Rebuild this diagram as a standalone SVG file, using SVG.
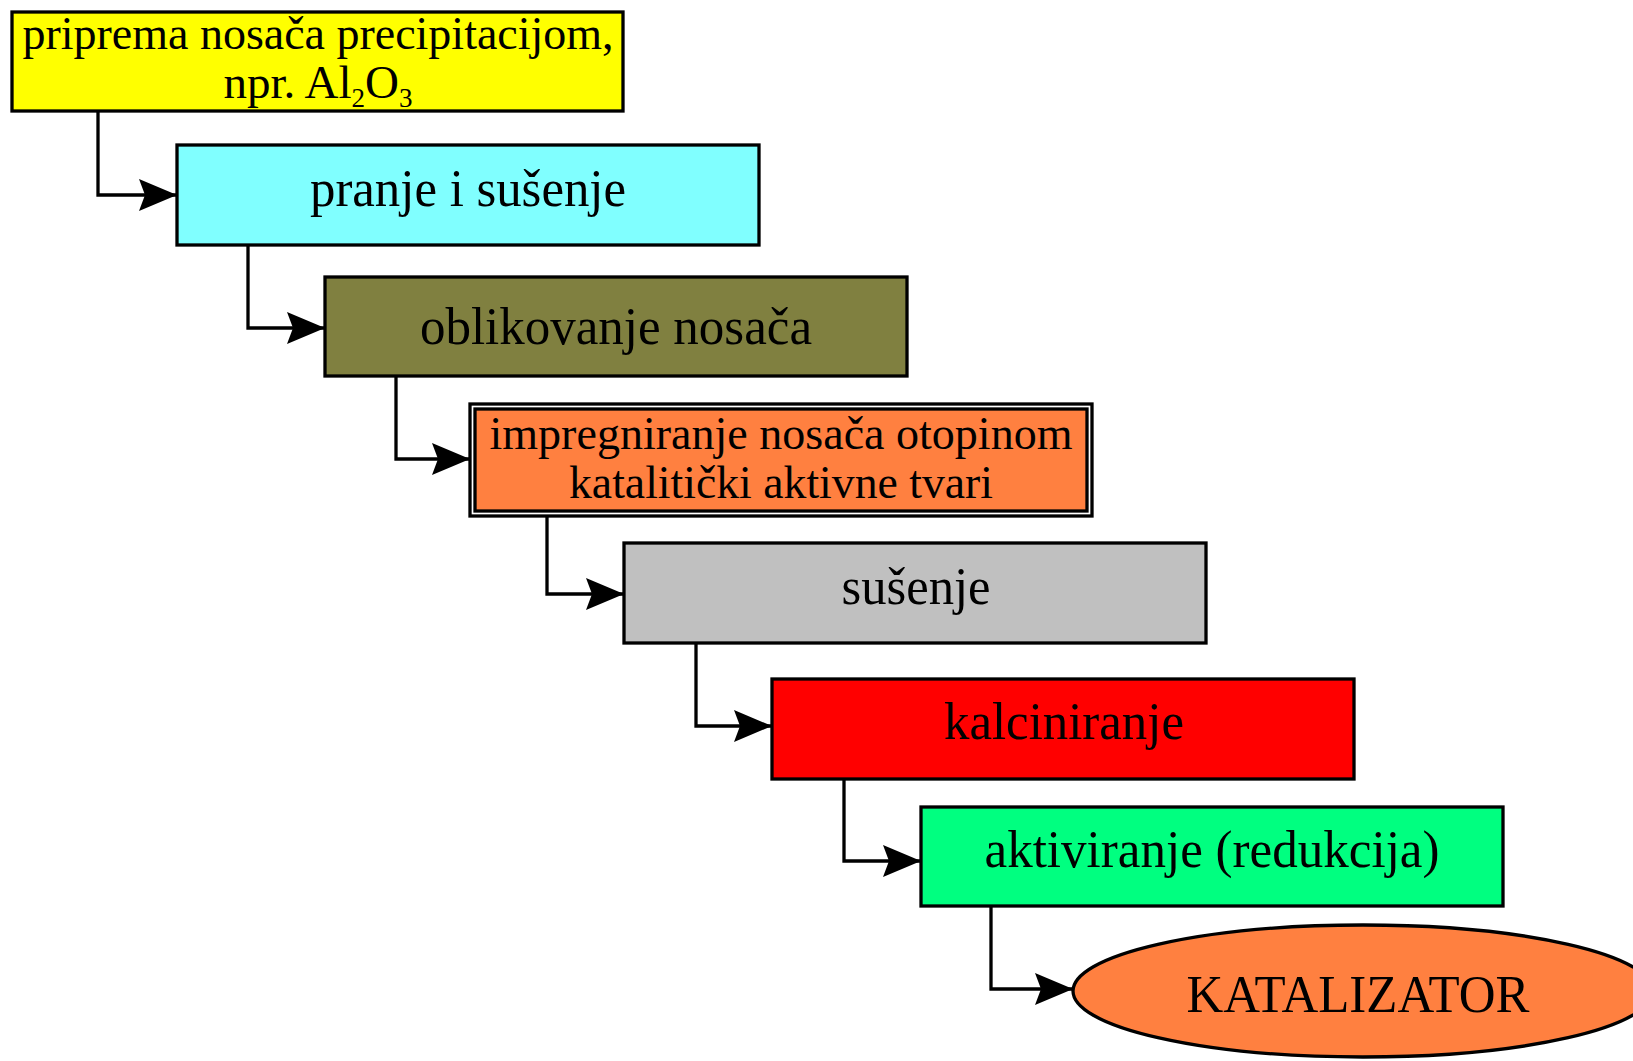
<svg xmlns="http://www.w3.org/2000/svg" width="1633" height="1061" viewBox="0 0 1633 1061">
<defs>
<marker id="arr" markerUnits="userSpaceOnUse" viewBox="0 0 38 32" refX="38" refY="16" markerWidth="38" markerHeight="32" orient="auto">
<path d="M0,0 L38,16 L0,32 L6,16 Z" fill="#000"/>
</marker>
<style>
.box{stroke:#000;stroke-width:3.3}
.t{font-family:"Liberation Serif","Times New Roman",serif;font-size:53px;fill:#000;text-anchor:middle}
.t2{font-family:"Liberation Serif","Times New Roman",serif;font-size:47px;fill:#000;text-anchor:middle}
.c{fill:none;stroke:#000;stroke-width:3.3;marker-end:url(#arr)}
</style>
</defs>
<rect width="1633" height="1061" fill="#fff"/>
<g id="connectors">
<path class="c" d="M98,111 V195 H177"/>
<path class="c" d="M248,245 V328 H325"/>
<path class="c" d="M396,376 V459 H470"/>
<path class="c" d="M547,511 V594 H624"/>
<path class="c" d="M696,643 V726 H772"/>
<path class="c" d="M844,779 V861 H921"/>
<path class="c" d="M991,906 V989 H1073"/>
</g>
<g id="n1">
<rect class="box" x="12" y="12" width="611" height="99" fill="#ffff00"/>
<text class="t2" x="318" y="49" textLength="591" lengthAdjust="spacingAndGlyphs">priprema nosača precipitacijom,</text>
<text class="t2" x="318" y="98">npr. Al<tspan font-size="27" dy="9">2</tspan><tspan dy="-9">O</tspan><tspan font-size="27" dy="9">3</tspan></text>
</g>
<g id="n2">
<rect class="box" x="177" y="145" width="582" height="100" fill="#80ffff"/>
<text class="t" x="468" y="206" textLength="316" lengthAdjust="spacingAndGlyphs">pranje i sušenje</text>
</g>
<g id="n3">
<rect class="box" x="325" y="277" width="582" height="99" fill="#808040"/>
<text class="t" x="616" y="344" textLength="392" lengthAdjust="spacingAndGlyphs">oblikovanje nosača</text>
</g>
<g id="n4">
<rect class="box" x="470" y="404" width="622" height="112" fill="#fff"/>
<rect class="box" x="475" y="409" width="612" height="102" fill="#ff8040"/>
<text class="t2" x="781" y="449" textLength="583" lengthAdjust="spacingAndGlyphs">impregniranje nosača otopinom</text>
<text class="t2" x="781" y="498" textLength="424" lengthAdjust="spacingAndGlyphs">katalitički aktivne tvari</text>
</g>
<g id="n5">
<rect class="box" x="624" y="543" width="582" height="100" fill="#c0c0c0"/>
<text class="t" x="916" y="604" textLength="149" lengthAdjust="spacingAndGlyphs">sušenje</text>
</g>
<g id="n6">
<rect class="box" x="772" y="679" width="582" height="100" fill="#ff0000"/>
<text class="t" x="1064" y="739" textLength="240" lengthAdjust="spacingAndGlyphs">kalciniranje</text>
</g>
<g id="n7">
<rect class="box" x="921" y="807" width="582" height="99" fill="#00ff80"/>
<text class="t" x="1212" y="867" textLength="455" lengthAdjust="spacingAndGlyphs">aktiviranje (redukcija)</text>
</g>
<g id="n8">
<ellipse class="box" cx="1363" cy="991" rx="290" ry="66" fill="#ff8040"/>
<text class="t" x="1358" y="1012" font-size="51" textLength="343" lengthAdjust="spacingAndGlyphs">KATALIZATOR</text>
</g>
</svg>
